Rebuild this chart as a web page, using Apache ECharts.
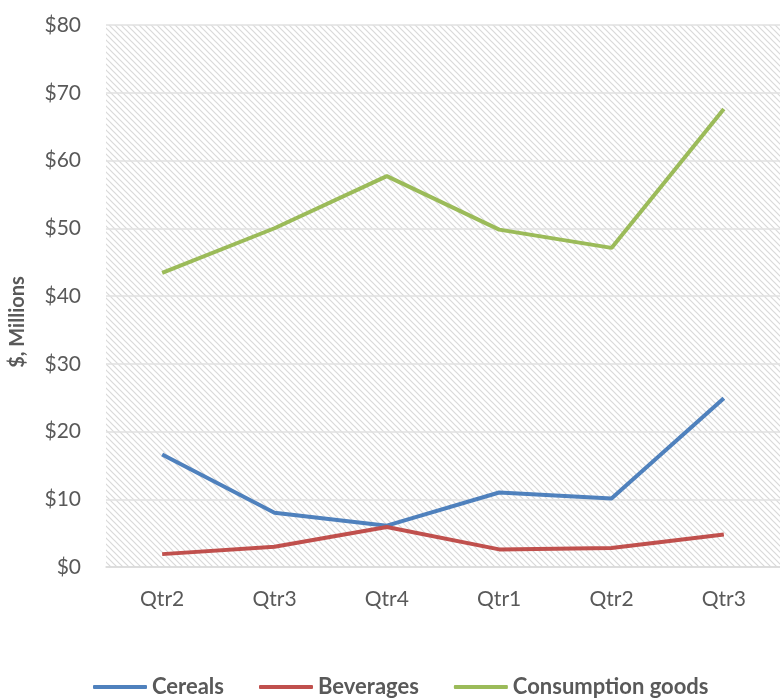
<!DOCTYPE html>
<html>
<head>
<meta charset="utf-8">
<script src="https://cdn.jsdelivr.net/npm/echarts@6/dist/echarts.min.js"></script>
<style>html,body{margin:0;padding:0;background:#fff}</style>
</head>
<body>
<div id="main" style="width:780px;height:699px"></div>
<script>
var quarters = ['Qtr2', 'Qtr3', 'Qtr4', 'Qtr1', 'Qtr2', 'Qtr3'];
var cereals = [16.6, 8.0, 6.1, 11.0, 10.1, 24.9];
var beverages = [1.9, 3.0, 5.9, 2.6, 2.8, 4.8];
var consumption = [43.4, 50.0, 57.7, 49.8, 47.1, 67.6];

// diagonal hatch for the plot area
var pat = document.createElement('canvas');
pat.width = 6; pat.height = 6;
var ctx = pat.getContext('2d');
ctx.fillStyle = '#fff';
ctx.fillRect(0, 0, 6, 6);
ctx.strokeStyle = '#d9d9d9';
ctx.lineWidth = 1.2;
ctx.beginPath();
ctx.moveTo(-1, -1); ctx.lineTo(7, 7);
ctx.moveTo(-4, 2); ctx.lineTo(4, 10);
ctx.moveTo(2, -4); ctx.lineTo(10, 4);
ctx.stroke();

var font = 'Lato, "Noto Sans", sans-serif';
var myChart = echarts.init(document.getElementById('main'));
myChart.setOption({
  animation: false,
  textStyle: { fontFamily: font },
  grid: {
    left: 103, right: -3, top: 25, bottom: 132,
    show: true,
    backgroundColor: { image: pat, repeat: 'repeat' },
    borderWidth: 0
  },
  legend: {
    bottom: -4,
    left: 88,
    itemWidth: 54,
    itemHeight: 4,
    itemGap: 35,
    icon: 'roundRect',
    textStyle: { fontFamily: font, fontSize: 22, fontWeight: 'bold', color: '#595959' },
    data: ['Cereals', 'Beverages', 'Consumption goods']
  },
  xAxis: {
    type: 'category',
    data: quarters,
    axisLine: { lineStyle: { color: '#d9d9d9', width: 1.5 } },
    axisTick: { show: false },
    axisLabel: { color: '#595959', fontSize: 21, margin: 22 }
  },
  yAxis: {
    type: 'value',
    min: 0, max: 80, interval: 10,
    name: '$, Millions',
    nameLocation: 'middle',
    nameGap: 78,
    nameTextStyle: { color: '#595959', fontSize: 20, fontWeight: 'bold', padding: [0, 52, 0, 0] },
    axisLabel: { color: '#595959', fontSize: 21, margin: 25, formatter: '${value}' },
    splitLine: { lineStyle: { color: '#e0e0e0', width: 1.5 } },
    axisLine: { show: false }
  },
  series: [
    { name: 'Cereals', type: 'line', data: cereals, symbol: 'none', color: '#4f81bd', lineStyle: { width: 4 } },
    { name: 'Beverages', type: 'line', data: beverages, symbol: 'none', color: '#c0504d', lineStyle: { width: 4 } },
    { name: 'Consumption goods', type: 'line', data: consumption, symbol: 'none', color: '#9bbb59', lineStyle: { width: 4 } }
  ]
});
</script>
</body>
</html>
